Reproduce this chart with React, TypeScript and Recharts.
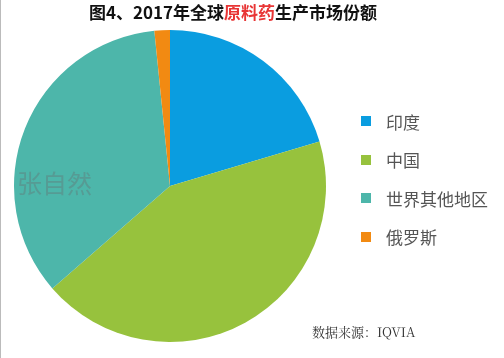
import { PieChart, Pie, Cell, Legend } from "recharts";

const regions = ["印度", "中国", "世界其他地区", "俄罗斯"];
const shares = [20.4, 43.2, 34.8, 1.6];
const colors = ["#0A9DE0", "#97C23D", "#4DB6AA", "#F28A12"];

const data = regions.map((name, i) => ({ name, value: shares[i] }));

const font = "'Noto Sans CJK SC', 'Noto Sans', sans-serif";

function LegendBox() {
  return (
    <div style={{ fontFamily: font }}>
      {data.map((d, i) => (
        <div
          key={d.name}
          style={{ display: "flex", alignItems: "center", height: 38.5 }}
        >
          <span
            style={{
              width: 10,
              height: 10,
              background: colors[i],
              marginRight: 15,
              display: "inline-block",
            }}
          />
          <span style={{ fontSize: 17, color: "#555" }}>{d.name}</span>
        </div>
      ))}
    </div>
  );
}

export default function App() {
  return (
    <div
      style={{
        position: "fixed",
        left: 0,
        top: 0,
        width: 504,
        height: 358,
        background: "#fff",
        borderLeft: "1px solid #bbb",
        boxSizing: "border-box",
      }}
    >
      <div
        style={{
          position: "absolute",
          left: 0,
          width: 464,
          top: -1,
          textAlign: "center",
          fontFamily: font,
          fontWeight: "bold",
          fontSize: 17,
          color: "#111",
        }}
      >
        图4、2017年全球<span style={{ color: "#E83535" }}>原料药</span>生产市场份额
      </div>
      <PieChart width={503} height={358}>
        <Pie
          data={data}
          dataKey="value"
          nameKey="name"
          cx={164}
          cy={181}
          outerRadius={156}
          startAngle={90}
          endAngle={-270}
          stroke="none"
          isAnimationActive={false}
        >
          {data.map((d, i) => (
            <Cell key={d.name} fill={colors[i]} />
          ))}
        </Pie>
        <Legend
          layout="vertical"
          content={() => <LegendBox />}
          wrapperStyle={{ left: 360, top: 102, width: 140 }}
        />
      </PieChart>
      <div
        style={{
          position: "absolute",
          left: 16,
          top: 164,
          fontFamily: font,
          fontSize: 25,
          color: "rgba(100,115,115,0.4)",
        }}
      >
        张自然
      </div>
      <div
        style={{
          position: "absolute",
          left: 311,
          top: 322,
          fontFamily: "'Noto Serif CJK SC', 'DejaVu Serif', serif",
          fontSize: 13,
          color: "#333",
        }}
      >
        数据来源：IQVIA
      </div>
    </div>
  );
}
